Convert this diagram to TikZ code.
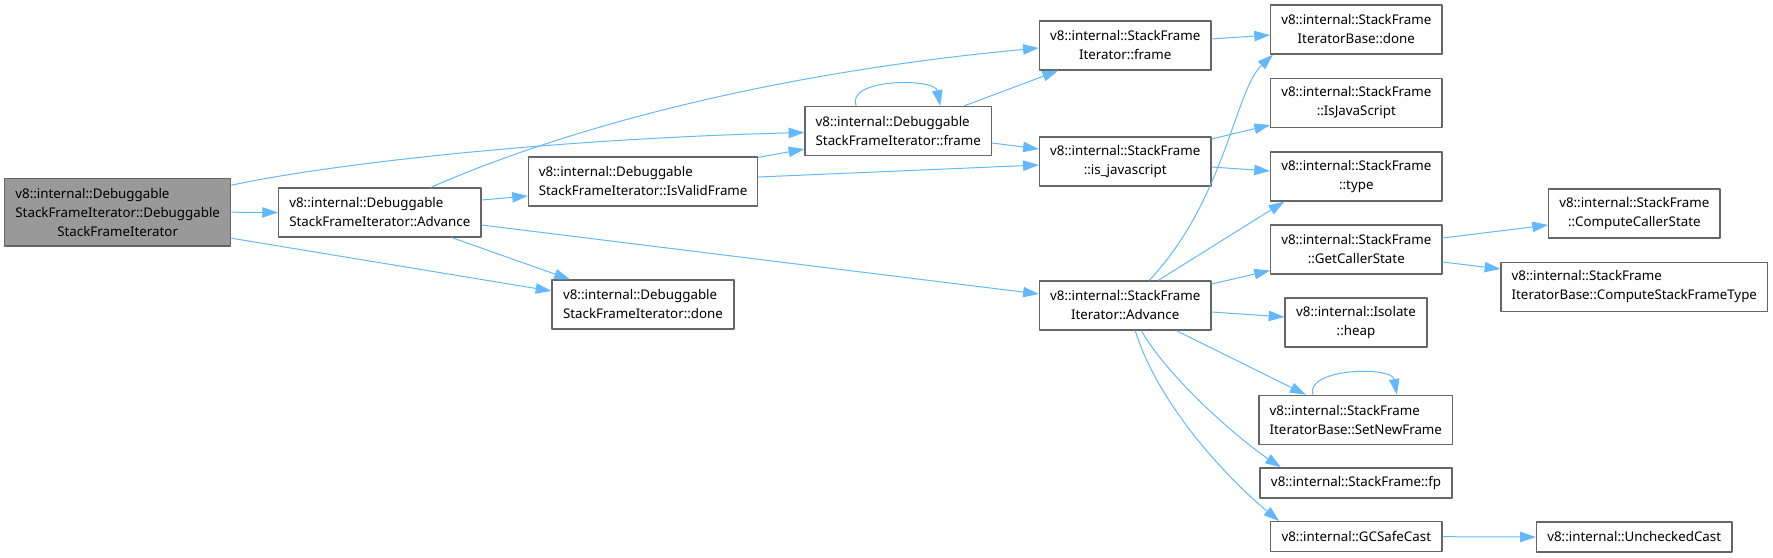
\documentclass[tikz,border=0pt]{standalone}
\usepackage{fontspec}
\setmainfont{Noto Sans}
\usetikzlibrary{arrows.meta, calc}
\definecolor{edgeblue}{HTML}{63B8FF}
\definecolor{boxgray}{HTML}{666666}
\definecolor{rootgray}{HTML}{999999}

\begin{document}
\begin{tikzpicture}[x=0.75pt, y=-0.75pt, line join=round,
    fn/.style={draw=boxgray, line width=0.9pt, fill=white, inner sep=2pt, minimum height=36.75pt, font=\fontsize{10}{14.25}\selectfont},
    fnl/.style={fn, align=left},
    fnc/.style={fn, align=center},
    oneline/.style={fn, minimum height=22.5pt},
    call/.style={draw=edgeblue, line width=0.75pt, -{Triangle[length=11.8pt, width=7.8pt]}}]
    \useasboundingbox (0,0) rectangle (1773,557);
    \node[fnc, fill=rootgray, minimum width=169.5pt, minimum height=50.8pt] (root) at (117.7,212.2)
      {\rlap{v8::internal::Debuggable}\hphantom{StackFrameIterator::Debuggable}\\StackFrameIterator::Debuggable\\StackFrameIterator};
    \node[fnl, minimum width=151.8pt] (dadv) at (379.8,212.5) {v8::internal::Debuggable\\StackFrameIterator::Advance};
    \node[fnl, minimum width=171.8pt] (dvalid) at (643.1,181.5) {v8::internal::Debuggable\\StackFrameIterator::IsValidFrame};
    \node[fnl, minimum width=139.9pt] (dframe) at (898.2,131) {v8::internal::Debuggable\\StackFrameIterator::frame};
    \node[fnl, minimum width=136.5pt] (ddone) at (643,304.5) {v8::internal::Debuggable\\StackFrameIterator::done};
    \node[fnc, minimum width=128.7pt] (sframe) at (1125.2,45.5) {v8::internal::StackFrame\\Iterator::frame};
    \node[fnc, minimum width=128.7pt] (sisjs) at (1125.2,161.5) {v8::internal::StackFrame\\::is\_javascript};
    \node[fnc, minimum width=128.7pt] (sadv) at (1125.2,305.5) {v8::internal::StackFrame\\Iterator::Advance};
    \node[fnc, minimum width=128.5pt] (bdone) at (1356.3,29.5) {v8::internal::StackFrame\\IteratorBase::done};
    \node[fnc, minimum width=128.5pt] (isjs) at (1356.3,103) {v8::internal::StackFrame\\::IsJavaScript};
    \node[fnc, minimum width=128.5pt] (type) at (1356.3,176.5) {v8::internal::StackFrame\\::type};
    \node[fnc, minimum width=128.5pt] (getcs) at (1356.3,249.5) {v8::internal::StackFrame\\::GetCallerState};
    \node[fnc, minimum width=106.5pt] (heap) at (1356,322.5) {v8::internal::Isolate\\::heap};
    \node[fnl, minimum width=145.3pt] (setnf) at (1355.8,419.8) {v8::internal::StackFrame\\IteratorBase::SetNewFrame};
    \node[oneline, minimum width=144pt] (fp) at (1356,483) {v8::internal::StackFrame::fp};
    \node[oneline, minimum width=128.5pt] (gcsafe) at (1356.3,536.7) {v8::internal::GCSafeCast};
    \node[fnc, minimum width=128.5pt] (compcs) at (1634.3,213.5) {v8::internal::StackFrame\\::ComputeCallerState};
    \node[fnl, minimum width=200pt] (compsft) at (1634.3,287) {v8::internal::StackFrame\\IteratorBase::ComputeStackFrameType};
    \node[oneline, minimum width=146.7pt] (unchk) at (1634.2,537) {v8::internal::UncheckedCast};
    % calls
    \draw[call] (root.east) -- (dadv.west);
    \draw[call] ($(root.east)+(0,-27)$) .. controls (330,164) and (550,139) .. ($(dframe.west)+(0,1.5)$);
    \draw[call] ($(root.east)+(0,26)$) -- ($(ddone.west)+(0,-13.5)$);
    \draw[call] ($(dadv.north)+(51,0)$) .. controls (550,135) and (750,75) .. ($(sframe.west)+(0,2.5)$);
    \draw[call] ($(dadv.east)+(0,-12.5)$) -- ($(dvalid.west)+(0,14.5)$);
    \draw[call] ($(dadv.south)+(72,0)$) -- ($(ddone.north)+(-73,0)$);
    \draw[call] ($(dadv.east)+(0,12.5)$) -- ($(sadv.west)+(0,-11.5)$);
    \draw[call] ($(dvalid.north east)+(0,1)$) -- ($(dframe.west)+(0,18)$);
    \draw[call] ($(dvalid.east)+(0,-4.5)$) -- ($(sisjs.west)+(0,3.5)$);
    \draw[call] ($(dframe.north)+(-42,0)$) .. controls (845,78) and (935,78) .. ($(dframe.north)+(42,0)$);
    \draw[call] ($(dframe.north)+(66,0)$) -- ($(sframe.south)+(-67,0)$);
    \draw[call] ($(dframe.east)+(0,12)$) -- ($(sisjs.west)+(0,-12.5)$);
    \draw[call] ($(sframe.east)+(0,-6.5)$) -- ($(bdone.west)+(0,5.5)$);
    \draw[call] ($(sisjs.east)+(0,-22.5)$) -- ($(isjs.west)+(0,22)$);
    \draw[call] ($(sisjs.east)+(0,5.5)$) -- ($(type.west)+(0,-5.5)$);
    \draw[call] ($(sadv.north)+(24,0)$) .. controls (1225,200) and (1235,90) .. ($(bdone.south west)+(3,0)$);
    \draw[call] ($(sadv.north)+(33,0)$) -- ($(type.south)+(-72,0)$);
    \draw[call] ($(sadv.east)+(0,-21.5)$) -- ($(getcs.west)+(0,21)$);
    \draw[call] ($(sadv.east)+(0,6.5)$) -- ($(heap.west)+(0,-5.5)$);
    \draw[call] ($(sadv.south)+(51,0)$) -- ($(setnf.north)+(-50,0)$);
    \draw[call] ($(setnf.north)+(-43,0)$) .. controls (1305,368) and (1392,366) .. ($(setnf.north)+(41,0)$);
    \draw[call] ($(sadv.south)+(16,0)$) .. controls (1170,380) and (1240,440) .. ($(fp.north)+(-75,0)$);
    \draw[call] ($(sadv.south)+(10,0)$) .. controls (1160,410) and (1235,485) .. ($(gcsafe.north)+(-77,0)$);
    \draw[call] ($(getcs.east)+(0,-11.5)$) -- ($(compcs.west)+(0,11.5)$);
    \draw[call] ($(getcs.east)+(0,12.5)$) -- ($(compsft.west)+(0,-18)$);
    \draw[call] (gcsafe.east) -- (unchk.west);
\end{tikzpicture}
\end{document}
